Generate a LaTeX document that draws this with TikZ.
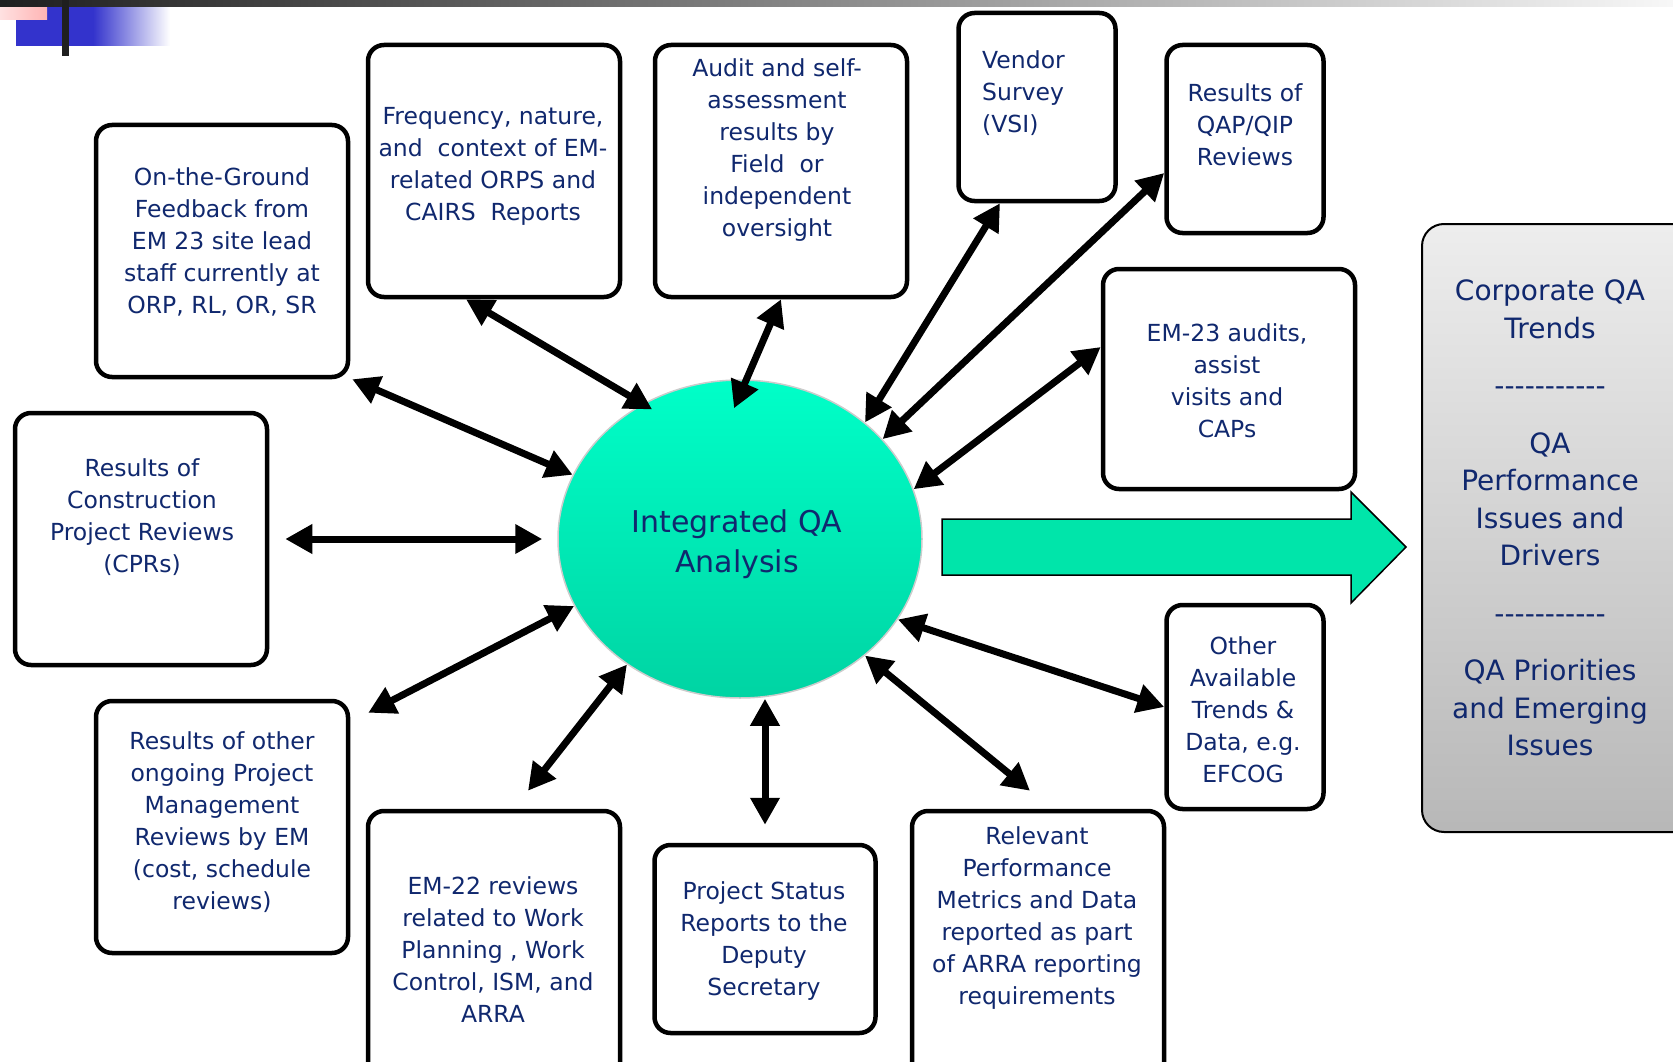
\documentclass[tikz,border=0pt]{standalone}
\usepackage{fontspec}
\setmainfont{DejaVu Sans}
\usetikzlibrary{shapes.geometric,arrows.meta}

\definecolor{qanavy}{RGB}{16,40,110}
\definecolor{qagreen}{RGB}{0,229,170}
\definecolor{qatop}{RGB}{0,255,200}
\definecolor{qabottom}{RGB}{0,212,163}
\definecolor{decoblue}{RGB}{51,51,204}
\definecolor{decopink}{RGB}{255,180,180}

\begin{document}
\begin{tikzpicture}[
  x=1pt, y=-1pt,
  every node/.style={text=qanavy},
  srcbox/.style={draw, line width=4.5pt, rounded corners=16pt, fill=white, inner sep=0pt},
  srctext/.style={align=center, font=\fontsize{23.5}{32}\selectfont, inner sep=0pt},
  biarrow/.style={line width=7pt,
                  {Triangle[length=27pt,width=28pt]}-{Triangle[length=27pt,width=28pt]}}
]
\useasboundingbox (0,0) rectangle (1673,1062);
\clip (0,0) rectangle (1673,1062);

% ====================== SOURCES (top row) ======================
\node[srcbox, minimum width=252pt, minimum height=252pt] (orp) at (222,251) {};
\node[srctext] (orp-t) at (222,242)
  {On-the-Ground\\Feedback from\\EM 23 site lead\\staff currently at\\ORP, RL, OR, SR};

\node[srcbox, minimum width=252pt, minimum height=252pt] (freq) at (494,171) {};
\node[srctext] (freq-t) at (493,166)
  {Frequency, nature,\\and~ context of EM-\\related ORPS and\\CAIRS~ Reports};

\node[srcbox, minimum width=252pt, minimum height=252pt] (audit) at (781,171) {};
\node[srctext] (audit-t) at (777,150)
  {Audit and self-\\assessment\\results by\\Field~ or\\independent\\oversight};

\node[srcbox, minimum width=157pt, minimum height=188pt] (vendor) at (1037,107) {};
\node[srctext, align=left, anchor=west] (vendor-t) at (982,93)
  {Vendor\\Survey\\(VSI)};

\node[srcbox, minimum width=157pt, minimum height=188pt] (qap) at (1245,139) {};
\node[srctext] (qap-t) at (1245,125)
  {Results of\\QAP/QIP\\Reviews};

\node[srcbox, minimum width=252pt, minimum height=220pt] (em23) at (1229,379) {};
\node[srctext] (em23-t) at (1227,381)
  {EM-23 audits,\\assist\\visits and\\CAPs};

% ====================== SOURCES (sides) ======================
\node[srcbox, minimum width=252pt, minimum height=252pt] (cpr) at (141,539) {};
\node[srctext] (cpr-t) at (142,517)
  {Results of\\Construction\\Project Reviews\\(CPRs)};

\node[srcbox, minimum width=252pt, minimum height=252pt] (pm) at (222,827) {};
\node[srctext] (pm-t) at (222,822)
  {Results of other\\ongoing Project\\Management\\Reviews by EM\\(cost, schedule\\reviews)};

\node[srcbox, minimum width=157pt, minimum height=204pt] (other) at (1245,707) {};
\node[srctext] (other-t) at (1243,710)
  {Other\\Available\\Trends \&\\Data, e.g.\\EFCOG};

% ====================== SOURCES (bottom row) ======================
\node[srcbox, minimum width=252pt, minimum height=274pt] (em22) at (494,948) {};
\node[srctext] (em22-t) at (493,950)
  {EM-22 reviews\\related to Work\\Planning , Work\\Control, ISM, and\\ARRA};

\node[srcbox, minimum width=221pt, minimum height=188pt] (status) at (765,939) {};
\node[srctext] (status-t) at (764,941)
  {Project Status\\Reports to the\\Deputy\\Secretary};

\node[srcbox, minimum width=252pt, minimum height=274pt] (arra) at (1038,948) {};
\node[srctext] (arra-t) at (1037,918)
  {Relevant\\Performance\\Metrics and Data\\reported as part\\of ARRA reporting\\requirements};

% ====================== ANALYSIS ======================
\node[ellipse, minimum width=364pt, minimum height=318pt, inner sep=0pt,
      top color=qatop, bottom color=qabottom, draw=black!20, line width=1.5pt]
  (qa) at (740,539) {};
\node[align=center, font=\fontsize{30}{40}\selectfont] (qa-t) at (737,544)
  {Integrated QA\\Analysis};

% ====================== OUTPUT ======================
\draw[line width=1.5pt, fill=qagreen]
  (942,519) -- (1351,519) -- (1351,492) -- (1406,547) -- (1351,603) -- (1351,575) -- (942,575) -- cycle;

\node[draw, line width=2pt, rounded corners=22pt, top color=black!7, bottom color=black!28,
      minimum width=278pt, minimum height=608pt] (trends) at (1561,528) {};
\node[align=center, font=\fontsize{28}{37.5}\selectfont] (trends-t) at (1550,518)
  {Corporate QA\\Trends\\[20pt]-{}-{}-{}-{}-{}-{}-{}-{}-{}-{}-\\[20pt]QA\\Performance\\Issues and\\Drivers\\[20pt]-{}-{}-{}-{}-{}-{}-{}-{}-{}-{}-\\[20pt]QA Priorities\\and Emerging\\Issues};

% ====================== ARROWS ======================
\draw[biarrow] ([xshift=2pt]orp.south east) -- (qa.159);
\draw[biarrow] ([xshift=-28pt]freq.south) -- ([xshift=5pt,yshift=-8pt]qa.124);
\draw[biarrow] (audit.south) -- ([xshift=-6pt,yshift=-29pt]qa.north);
\draw[biarrow] ([xshift=-37pt]vendor.south) -- (qa.43);
\draw[biarrow] ([yshift=-34pt]qap.west) -- (qa.35);
\draw[biarrow] ([yshift=32pt]em23.west) -- (qa.16);
\draw[biarrow] ([xshift=16pt]cpr.east) -- ([xshift=-15pt]qa.west);
\draw[biarrow] ([xshift=18pt,yshift=-14pt]pm.north east) -- (qa.202);
\draw[biarrow] ([xshift=34pt,yshift=18pt]em22.north) -- (qa.228);
\draw[biarrow] ([yshift=18pt]status.north) -- (status.north |- qa.south);
\draw[biarrow] ([xshift=-8pt,yshift=18pt]arra.north) -- (qa.317);
\draw[biarrow] (other.west) -- (qa.333);

% ====================== CORNER DECORATION ======================
\fill[decoblue] (16,7) rectangle (93,46);
\shade[left color=decoblue, right color=white] (93,7) rectangle (170,46);
\shade[left color=decopink!40!white, right color=decopink] (0,0) rectangle (47,20);
\shade[left color=black!88, right color=black!3] (0,0) rectangle (1673,7);
\fill[black!88] (62,0) rectangle (69,56);

\end{tikzpicture}
\end{document}
